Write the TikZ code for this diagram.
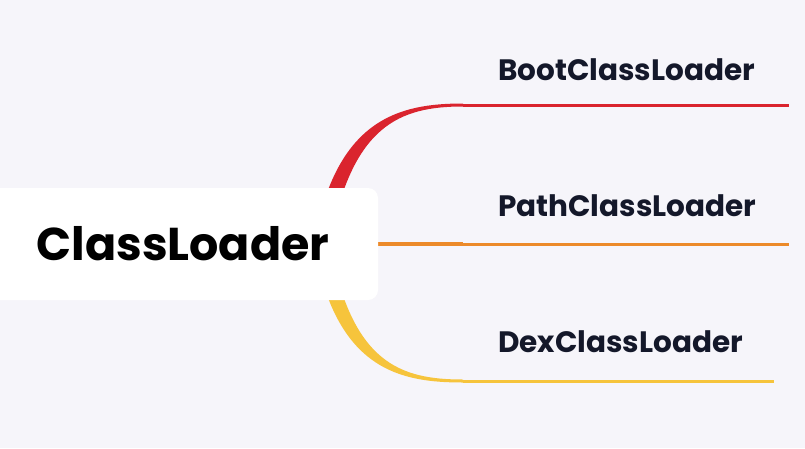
\documentclass[tikz,border=0pt]{standalone}
\usepackage{fontspec}
\setmainfont{Poppins}
\usepackage{tikz}
\usetikzlibrary{positioning,calc}
\definecolor{bgcol}{RGB}{246,245,250}
\definecolor{inkcol}{RGB}{20,24,42}
\definecolor{bootcol}{RGB}{218,36,46}
\definecolor{pathcol}{RGB}{236,138,42}
\definecolor{dexcol}{RGB}{246,196,60}
\tikzset{
    %Define style for the root box
    rootbox/.style={fill=white, rounded corners=10pt, minimum width=390pt, minimum height=112pt,
        inner sep=0pt, font=\fontsize{46}{46}\selectfont\bfseries, text=black},
    %Define style for the child labels
    childlabel/.style={anchor=base west, inner sep=0pt, font=\fontsize{29.5}{29.5}\selectfont\bfseries, text=inkcol},
    %Define style for the straight branch parts
    branch/.style={line width=3pt},
}
\begin{document}
\begin{tikzpicture}[x=1pt,y=-1pt]
    \fill[bgcol] (0,0) rectangle (805,448);
    \useasboundingbox (0,0) rectangle (805,448);

    % branch ends
    \coordinate (bootstart) at (322,243);
    \coordinate (bootknee) at (463,105);
    \coordinate (bootend) at (789,105);
    \coordinate (pathstart) at (330,244);
    \coordinate (pathknee) at (463,244);
    \coordinate (pathend) at (789,244);
    \coordinate (dexstart) at (322,245);
    \coordinate (dexknee) at (463,381);
    \coordinate (dexend) at (774,381);

    % tapered curves
    \fill[bootcol] ($(bootstart)+(-8,0)$) .. controls (336,118) and (400,103.5) .. ($(bootknee)+(0,-1.5)$)
        -- ($(bootknee)+(0,1.5)$) .. controls (400,106.5) and (352,125) .. ($(bootstart)+(8,0)$) -- cycle;
    \fill[dexcol] ($(dexstart)+(-8,0)$) .. controls (336,370) and (400,382.5) .. ($(dexknee)+(0,1.5)$)
        -- ($(dexknee)+(0,-1.5)$) .. controls (400,379.5) and (352,363) .. ($(dexstart)+(8,0)$) -- cycle;
    \draw[pathcol, line width=4.5pt] (pathstart) -- (pathknee);

    \draw[branch, bootcol] (bootknee) -- (bootend);
    \draw[branch, pathcol] (pathknee) -- (pathend);
    \draw[branch, dexcol] (dexknee) -- (dexend);

    \node[rootbox] (root) at (183,244) {ClassLoader};

    \node[childlabel] (boot) at (498,80) {BootClassLoader};
    \node[childlabel] (path) at (498,216) {PathClassLoader};
    \node[childlabel] (dex) at (498,352) {DexClassLoader};
\end{tikzpicture}
\end{document}
